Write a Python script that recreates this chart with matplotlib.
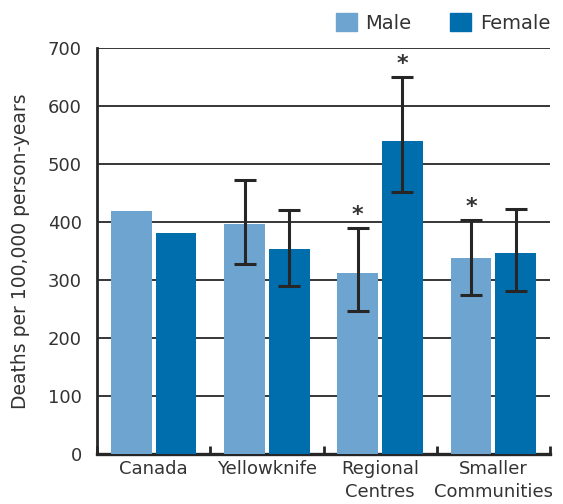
import numpy as np
import matplotlib
matplotlib.use("Agg")
import matplotlib.pyplot as plt
from matplotlib.patches import Patch

# Mortality rates (deaths per 100,000 person-years)
categories = ["Canada", "Yellowknife", "Regional\nCentres", "Smaller\nCommunities"]
male = [419, 396, 312, 338]
female = [381, 353, 540, 347]
# 95% confidence limits (None where not shown)
male_lo = [None, 327, 247, 275]
male_hi = [None, 473, 390, 404]
female_lo = [None, 290, 451, 281]
female_hi = [None, 421, 650, 422]
# Statistically significant difference vs. Canada
male_sig = [False, False, True, True]
female_sig = [False, False, True, False]

MALE_C = "#6ea4d0"
FEMALE_C = "#006dad"
INK = "#262626"
TEXT = "#333333"

plt.rcParams["font.family"] = ["DejaVu Sans"]

fig = plt.figure(figsize=(5.63, 5.04), dpi=100)
ax = fig.add_axes([97 / 563, 1 - 454 / 504, 453 / 563, 406 / 504])

x = np.arange(len(categories))
w = 0.36
off = 0.197

ax.bar(x - off, male, width=w, color=MALE_C, zorder=3)
ax.bar(x + off, female, width=w, color=FEMALE_C, zorder=3)


def draw_errors(xs, vals, lo, hi, sig):
    for xi, v, l, h, s in zip(xs, vals, lo, hi, sig):
        if l is None:
            continue
        ax.errorbar(xi, v, yerr=[[v - l], [h - v]], fmt="none", ecolor=INK,
                    elinewidth=2.2, capsize=7.8, capthick=2.2, zorder=4)
        if s:
            ax.annotate("*", (xi, h), xytext=(0, 2), textcoords="offset points",
                        ha="center", va="bottom", fontsize=16, color=TEXT,
                        fontweight="bold", zorder=5)


draw_errors(x - off, male, male_lo, male_hi, male_sig)
draw_errors(x + off, female, female_lo, female_hi, female_sig)

# Horizontal reference lines
for yv in range(100, 800, 100):
    ax.axhline(yv, color=INK, lw=1.3, zorder=1)

ax.set_xlim(-0.5, 3.5)
ax.set_ylim(0, 700)
ax.set_yticks(range(0, 800, 100))
ax.tick_params(axis="y", length=0, pad=11, labelsize=13, labelcolor=TEXT)

# Group separators on the category axis
ax.set_xticks(np.arange(-0.5, 4.0, 1.0), minor=False)
ax.set_xticklabels([])
ax.tick_params(axis="x", which="major", direction="in", length=6, width=2,
               color=INK)
ax.set_xticks(x, minor=True)
ax.set_xticklabels(categories, minor=True, fontsize=13, color=TEXT,
                   linespacing=1.4)
ax.tick_params(axis="x", which="minor", length=0, pad=4)

for side in ("top", "right"):
    ax.spines[side].set_visible(False)
ax.spines["left"].set_color(INK)
ax.spines["left"].set_linewidth(2)
ax.spines["bottom"].set_color(INK)
ax.spines["bottom"].set_linewidth(2.4)

ax.set_ylabel("Deaths per 100,000 person-years", fontsize=13.5, color=TEXT,
              labelpad=13)

handles = [Patch(color=MALE_C, label="Male"), Patch(color=FEMALE_C, label="Female")]
fig.legend(handles=handles, loc="upper right", bbox_to_anchor=(550 / 563, 1 - 13 / 504),
           ncol=2, frameon=False, fontsize=14, handlelength=1.05, handleheight=1.05,
           handletextpad=0.45, columnspacing=2.0, labelcolor=TEXT,
           borderpad=0, borderaxespad=0)

fig.savefig("out.png", dpi=100)
